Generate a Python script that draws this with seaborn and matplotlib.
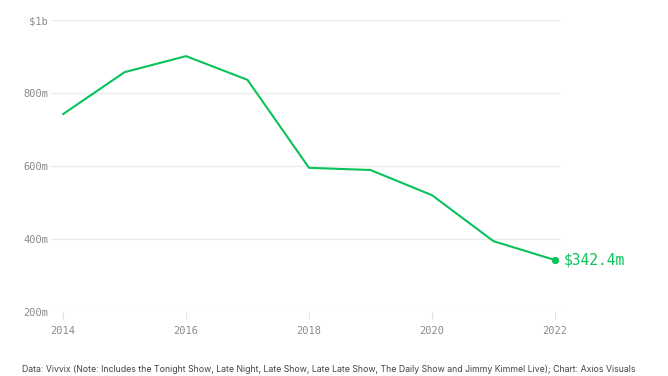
import matplotlib
matplotlib.use("Agg")
import matplotlib.pyplot as plt
import seaborn as sns
import pandas as pd

years = [2014, 2015, 2016, 2017, 2018, 2019, 2020, 2021, 2022]
revenue_m = [742, 857, 901, 836, 595, 589, 520, 394, 342.4]
ytick_vals = [200, 400, 600, 800, 1000]
ytick_labels = ["200m", "400m", "600m", "800m", "$1b"]
xtick_vals = [2014, 2016, 2018, 2020, 2022]
end_label = "$342.4m"
caption = ("Data: Vivvix (Note: Includes the Tonight Show, Late Night, Late Show, Late Late Show, "
           "The Daily Show and Jimmy Kimmel Live); Chart: Axios Visuals")

df = pd.DataFrame({"year": years, "revenue": revenue_m})

sns.set_theme(style="white")
plt.rcParams["font.family"] = ["DejaVu Sans Mono"]

green = "#0ac25a"
grey = "#8a8a8a"

fig = plt.figure(figsize=(6.68, 3.76), dpi=100)
ax = fig.add_axes([51/668, (376-312)/376, (561-51)/668, (312-20)/376])

for v in ytick_vals:
    ax.axhline(v, color="#ebebeb", lw=1, zorder=0)

sns.lineplot(data=df, x="year", y="revenue", color=green, lw=1.5, ax=ax)
ax.scatter([years[-1]], [revenue_m[-1]], color=green, s=18, zorder=5, clip_on=False)
ax.annotate(end_label, (years[-1], revenue_m[-1]), xytext=(6, 0), textcoords="offset points",
            color=green, fontsize=10.5, va="center", ha="left", family="DejaVu Sans Mono",
            annotation_clip=False)

ax.set_xlim(2014 - 12/61.5, 2022 + 6/61.5)
ax.set_ylim(200, 1000)
ax.set_yticks(ytick_vals)
ax.set_yticklabels(ytick_labels)
ax.set_xticks(xtick_vals)
ax.set_xticklabels([str(x) for x in xtick_vals])
ax.tick_params(axis="y", length=0, pad=2, labelsize=7.5, labelcolor=grey)
ax.tick_params(axis="x", length=5, width=0.8, color="#e0e0e0", pad=5, labelsize=7.5,
               labelcolor=grey, bottom=True)
for s in ax.spines.values():
    s.set_visible(False)
ax.set_xlabel("")
ax.set_ylabel("")

fig.text(22/668, 1 - 369/376, caption, fontsize=6.3, color="#444444", family="Inter",
         ha="left", va="center")

fig.savefig("out.png", dpi=100)
